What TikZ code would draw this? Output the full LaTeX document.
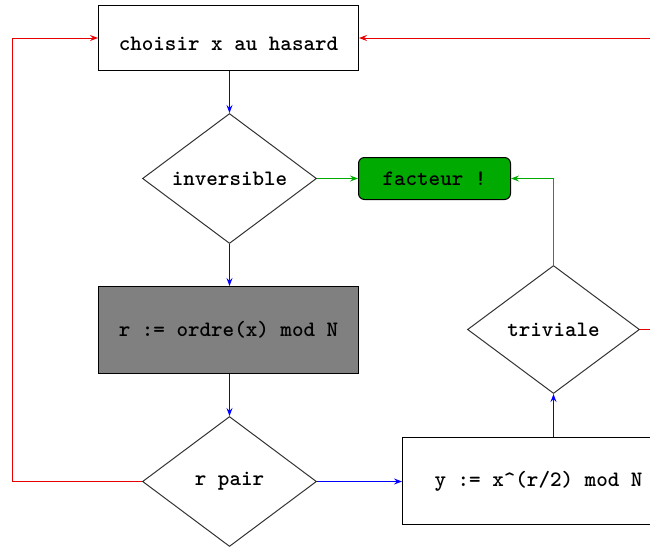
\documentclass[tikz,border=0pt]{standalone}
\usetikzlibrary{shapes.geometric,arrows.meta}
\definecolor{fgreen}{RGB}{0,170,0}
\definecolor{fgray}{RGB}{128,128,128}
\definecolor{fred}{RGB}{230,0,0}
\begin{document}
\begin{tikzpicture}[x=1pt,y=-1pt,
  every node/.style={font=\ttfamily\bfseries\fontsize{22}{26}\selectfont, line width=1pt},
  box/.style={rectangle, draw=black, inner sep=0pt},
  dia/.style={diamond, draw=black!80, aspect=1.34, minimum width=174pt, minimum height=130pt, inner sep=0pt},
  tip/.style={-{Stealth[length=8pt,width=6pt,inset=3pt]}},
  bluearr/.style={blue, line width=1pt, tip},
  greenarr/.style={fgreen, line width=1pt, tip},
  redarr/.style={fred, line width=1pt, tip}]
\useasboundingbox (0,0) rectangle (650,546);
\clip (0,0) rectangle (650,546);
\node[box, minimum width=260pt, minimum height=65pt, text height=25pt] (choisir) at (228.5,38) {choisir x au hasard};
\node[dia] (inv) at (229.5,178.5) {inversible};
\node[box, rounded corners=6pt, fill=fgreen, minimum width=152pt, minimum height=42pt] (fact) at (434.5,178.5) {facteur !};
\node[box, fill=fgray, minimum width=260pt, minimum height=87pt] (ordre) at (228.5,330) {r := ordre(x) mod N};
\node[dia, minimum width=172pt, minimum height=128pt] (triv) at (553.5,329.5) {triviale};
\node[dia] (pair) at (229.5,481.5) {r pair};
\node[box, minimum width=272pt, minimum height=87pt] (ybox) at (538.5,481) {y := x\^{}(r/2) mod N};
\coordinate (leftc) at (12.5,481.5);
\coordinate (rightc) at (690,329.5);
\draw[bluearr] (choisir.south -| inv.north) -- (inv.north);
\draw[bluearr] (inv.south) -- (inv.south |- ordre.north);
\draw[bluearr] (pair.north |- ordre.south) -- (pair.north);
\draw[bluearr] (pair.east) -- (pair.east -| ybox.west);
\draw[bluearr] (ybox.north -| triv.south) -- (triv.south);
\draw[greenarr] (inv.east) -- (fact.west);
\draw[greenarr] (triv.north) |- (fact.east);
\draw[redarr] (pair.west) -- (leftc) |- (choisir.west);
\draw[redarr] (triv.east) -- (rightc) |- (choisir.east);
\end{tikzpicture}
\end{document}
